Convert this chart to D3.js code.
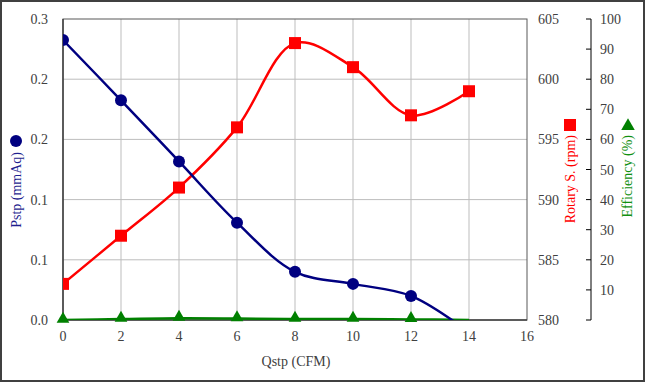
<!DOCTYPE html>
<html><head><meta charset="utf-8">
<script src="https://cdn.jsdelivr.net/npm/d3@7"></script>
<style>
html,body{margin:0;padding:0;background:#fff;}
svg{display:block;}
</style></head>
<body>
<script>
const qstp = [0, 2, 4, 6, 8, 10, 12, 14];
const pstp = [0.279, 0.219, 0.158, 0.097, 0.048, 0.036, 0.024, -0.012];
const rotary = [583, 587, 591, 596, 603, 601, 597, 599];
const efficiency = [0.0, 0.3, 0.6, 0.5, 0.3, 0.3, 0.2, 0.0];
const xTicks = [0, 2, 4, 6, 8, 10, 12, 14, 16];
const pTicks = [0, 0.06, 0.12, 0.18, 0.24, 0.30];
const rTicks = [580, 585, 590, 595, 600, 605];
const eTicks = [10, 20, 30, 40, 50, 60, 70, 80, 90, 100];

const W = 645, H = 382;
const L = 63, R = 527, T = 19, B = 320;
const FONT = "'Liberation Serif', 'Times New Roman', 'DejaVu Serif', serif";
const svg = d3.select("body").append("svg").attr("width", W).attr("height", H)
  .attr("font-family", FONT);

svg.append("rect").attr("x", 1).attr("y", 1).attr("width", W - 2).attr("height", H - 2)
  .attr("fill", "#fff").attr("stroke", "#404040").attr("stroke-width", 2);

const x = d3.scaleLinear().domain([0, 16]).range([L, R]);
const yP = d3.scaleLinear().domain([0, 0.3]).range([B, T]);
const yR = d3.scaleLinear().domain([580, 605]).range([B, T]);
const yE = d3.scaleLinear().domain([0, 100]).range([B, T]);

// grid
svg.append("g").selectAll("line").data(xTicks.slice(1, -1)).join("line")
  .attr("x1", d => x(d)).attr("x2", d => x(d)).attr("y1", T).attr("y2", B)
  .attr("stroke", "#bdbdbd").attr("stroke-width", 1);
svg.append("g").selectAll("line").data(pTicks.slice(1, -1)).join("line")
  .attr("x1", L).attr("x2", R).attr("y1", d => yP(d)).attr("y2", d => yP(d))
  .attr("stroke", "#bdbdbd").attr("stroke-width", 1);

// plot border
svg.append("rect").attr("x", L).attr("y", T).attr("width", R - L).attr("height", B - T)
  .attr("fill", "none").attr("stroke", "#595959").attr("stroke-width", 1);
svg.append("line").attr("x1", L).attr("x2", L).attr("y1", T).attr("y2", B).attr("stroke", "#404040").attr("stroke-width", 1.5);
svg.append("line").attr("x1", L).attr("x2", R).attr("y1", B).attr("y2", B).attr("stroke", "#404040").attr("stroke-width", 1.5);

const tickColor = "#404040";
svg.append("g").selectAll("text").data(xTicks).join("text")
  .attr("x", d => x(d)).attr("y", B + 21).attr("text-anchor", "middle")
  .attr("font-size", 14).attr("fill", tickColor).text(d => d);
svg.append("g").selectAll("text").data(pTicks).join("text")
  .attr("x", L - 15).attr("y", d => yP(d) + 5).attr("text-anchor", "end")
  .attr("font-size", 14).attr("fill", tickColor).text(d => d3.format(".1f")(d));
svg.append("g").selectAll("text").data(rTicks).join("text")
  .attr("x", 538).attr("y", d => yR(d) + 5).attr("text-anchor", "start")
  .attr("font-size", 14).attr("fill", tickColor).text(d => d);
const ex = 591;
svg.append("line").attr("x1", ex).attr("x2", ex).attr("y1", yE(100)).attr("y2", yE(0))
  .attr("stroke", "#000").attr("stroke-width", 1);
svg.append("g").selectAll("line").data([0].concat(eTicks)).join("line")
  .attr("x1", ex - 5).attr("x2", ex).attr("y1", d => yE(d)).attr("y2", d => yE(d))
  .attr("stroke", "#000").attr("stroke-width", 1);
svg.append("g").selectAll("text").data(eTicks).join("text")
  .attr("x", 600).attr("y", d => yE(d) + 5).attr("text-anchor", "start")
  .attr("font-size", 14).attr("fill", tickColor).text(d => d);

svg.append("text").attr("x", 296).attr("y", 366).attr("text-anchor", "middle")
  .attr("font-size", 14).attr("fill", tickColor).text("Qstp (CFM)");

function title(cx, textTopY, label, color, marker) {
  const g = svg.append("g");
  g.append("text").attr("transform", `translate(${cx + 5},${textTopY}) rotate(-90)`)
    .attr("text-anchor", "end").attr("font-size", 14).attr("fill", color).text(label);
  marker(g);
}
title(16, 152, "Pstp (mmAq)", "#1f1f8f", g => g.append("circle").attr("cx", 16).attr("cy", 141).attr("r", 6).attr("fill", "#000080"));
title(570, 135, "Rotary S. (rpm)", "#ff0000", g => g.append("rect").attr("x", 564).attr("y", 119).attr("width", 12).attr("height", 12).attr("fill", "#ff0000"));
title(627, 135, "Efficiency (%)", "#119011", g => g.append("path").attr("d", d3.symbol(d3.symbolTriangle, 80)()).attr("transform", "translate(628,126)").attr("fill", "#008000"));

svg.append("clipPath").attr("id", "clip").append("rect")
  .attr("x", L).attr("y", T - 10).attr("width", R - L + 10).attr("height", B - T + 10);

const plot = svg.append("g").attr("clip-path", "url(#clip)");
const curve = d3.curveCatmullRom.alpha(0.5);

function series(vals, yS, color, markerFn) {
  const pts = qstp.map((q, i) => [x(q), yS(vals[i])]);
  plot.append("path").attr("d", d3.line().curve(curve)(pts))
    .attr("fill", "none").attr("stroke", color).attr("stroke-width", 2.5);
  markerFn(pts);
}
series(efficiency, yE, "#008000", pts => {
  svg.append("g").selectAll("path").data(pts.filter((p, i) => efficiency[i] > 0 || i === 0)).join("path")
    .attr("d", d3.symbol(d3.symbolTriangle, 70)()).attr("transform", d => `translate(${d[0]},${d[1] - 1})`).attr("fill", "#008000");
});
series(rotary, yR, "#ff0000", pts => {
  plot.append("g").selectAll("rect").data(pts).join("rect")
    .attr("x", d => d[0] - 6).attr("y", d => d[1] - 6).attr("width", 12).attr("height", 12).attr("fill", "#ff0000");
});
series(pstp, yP, "#000080", pts => {
  plot.append("g").selectAll("circle").data(pts.filter((p, i) => pstp[i] >= 0)).join("circle")
    .attr("cx", d => d[0]).attr("cy", d => d[1]).attr("r", 6).attr("fill", "#000080");
});
</script>
</body></html>
